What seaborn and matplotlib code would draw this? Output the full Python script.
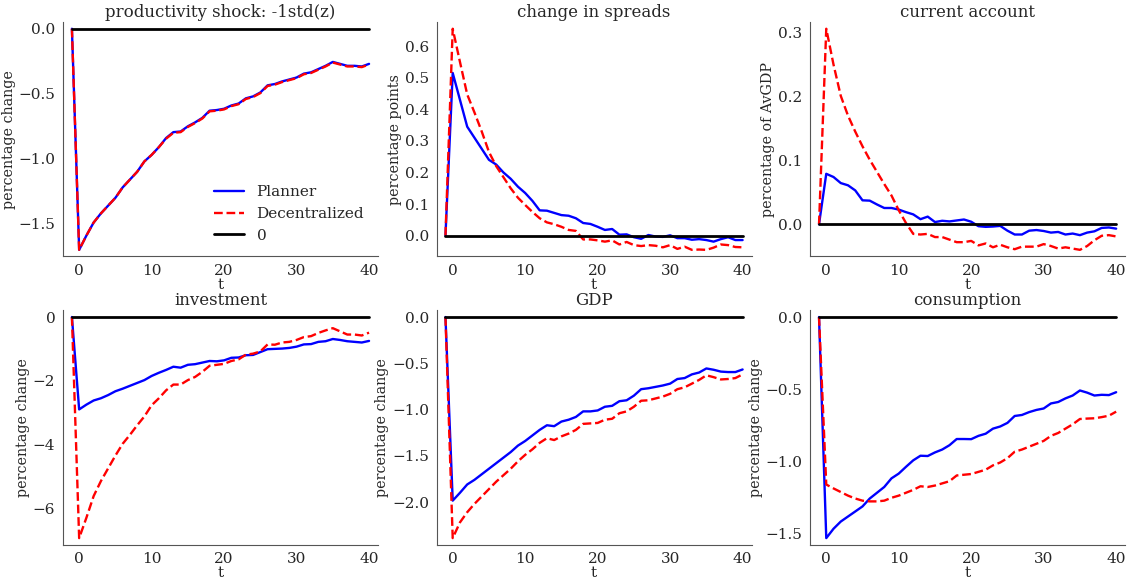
import numpy as np
import pandas as pd
import matplotlib
matplotlib.use("Agg")
import matplotlib.pyplot as plt
from matplotlib.ticker import MultipleLocator
import seaborn as sns

# horizon: t = -1 (steady state) .. 40
t = list(range(-1, 41))

# --- impulse responses ---
prod_planner = [0.0, -1.70, -1.59, -1.49, -1.42, -1.36, -1.30, -1.22, -1.16, -1.10, -1.02,
                -0.97, -0.91, -0.84, -0.795, -0.79, -0.75, -0.72, -0.685, -0.63, -0.625,
                -0.615, -0.59, -0.575, -0.535, -0.52, -0.49, -0.435, -0.425, -0.405, -0.39,
                -0.375, -0.345, -0.335, -0.31, -0.285, -0.255, -0.27, -0.285, -0.285, -0.29, -0.27]
prod_decen = [0.0, -1.70, -1.59, -1.49, -1.42, -1.36, -1.30, -1.22, -1.16, -1.10, -1.02,
              -0.97, -0.91, -0.845, -0.80, -0.795, -0.755, -0.725, -0.69, -0.635, -0.63,
              -0.62, -0.595, -0.58, -0.54, -0.525, -0.495, -0.44, -0.43, -0.41, -0.395,
              -0.38, -0.35, -0.34, -0.315, -0.29, -0.26, -0.275, -0.29, -0.29, -0.295, -0.275]

spread_planner = [0.0, 0.515, 0.43, 0.345, 0.31, 0.275, 0.24, 0.225, 0.20, 0.18, 0.155,
                  0.135, 0.11, 0.08, 0.079, 0.072, 0.065, 0.063, 0.055, 0.04, 0.037,
                  0.028, 0.018, 0.021, 0.003, 0.004, -0.005, -0.01, 0.002, -0.003, -0.004,
                  0.001, -0.008, -0.008, -0.013, -0.011, -0.014, -0.019, -0.011, -0.005, -0.014, -0.014]
spread_decen = [0.0, 0.655, 0.55, 0.447, 0.39, 0.33, 0.265, 0.22, 0.185, 0.15, 0.12,
                0.097, 0.075, 0.055, 0.042, 0.036, 0.028, 0.018, 0.015, -0.012, -0.012,
                -0.015, -0.019, -0.015, -0.028, -0.02, -0.03, -0.033, -0.03, -0.032, -0.037,
                -0.03, -0.042, -0.035, -0.045, -0.044, -0.045, -0.038, -0.028, -0.03, -0.036, -0.037]

ca_planner = [0.0, 0.079, 0.074, 0.0645, 0.061, 0.053, 0.0375, 0.037, 0.031, 0.0255, 0.0255,
              0.023, 0.019, 0.0155, 0.008, 0.012, 0.0035, 0.0055, 0.0045, 0.006, 0.0075,
              0.004, -0.003, -0.004, -0.0035, -0.0025, -0.01, -0.016, -0.016, -0.01, -0.009,
              -0.0105, -0.013, -0.012, -0.016, -0.0145, -0.017, -0.013, -0.011, -0.0057, -0.005, -0.0068]
ca_decen = [0.0, 0.306, 0.25, 0.201, 0.17, 0.145, 0.122, 0.101, 0.082, 0.063, 0.045,
            0.022, 0.002, -0.015, -0.016, -0.015, -0.02, -0.02, -0.024, -0.028, -0.028,
            -0.026, -0.033, -0.03, -0.036, -0.032, -0.036, -0.039, -0.035, -0.035, -0.035,
            -0.031, -0.034, -0.038, -0.036, -0.038, -0.04, -0.034, -0.025, -0.018, -0.017, -0.019]

inv_planner = [0.0, -2.9, -2.75, -2.62, -2.55, -2.45, -2.33, -2.25, -2.16, -2.07, -1.98,
               -1.85, -1.75, -1.66, -1.56, -1.59, -1.50, -1.48, -1.43, -1.38, -1.39,
               -1.36, -1.28, -1.27, -1.20, -1.19, -1.10, -1.01, -1.00, -0.99, -0.97,
               -0.93, -0.86, -0.85, -0.78, -0.76, -0.69, -0.72, -0.76, -0.78, -0.80, -0.75]
inv_decen = [0.0, -6.94, -6.3, -5.62, -5.15, -4.75, -4.35, -3.98, -3.70, -3.40, -3.12,
             -2.77, -2.55, -2.30, -2.12, -2.12, -1.98, -1.88, -1.72, -1.53, -1.50,
             -1.47, -1.38, -1.33, -1.18, -1.15, -1.08, -0.86, -0.87, -0.80, -0.78,
             -0.72, -0.63, -0.60, -0.50, -0.42, -0.35, -0.45, -0.55, -0.55, -0.58, -0.49]

gdp_planner = [0.0, -1.985, -1.90, -1.81, -1.76, -1.70, -1.64, -1.58, -1.52, -1.46, -1.39,
               -1.34, -1.28, -1.22, -1.17, -1.18, -1.13, -1.11, -1.08, -1.02, -1.02,
               -1.01, -0.97, -0.96, -0.91, -0.90, -0.85, -0.78, -0.77, -0.755, -0.74,
               -0.72, -0.67, -0.66, -0.62, -0.60, -0.556, -0.57, -0.59, -0.595, -0.595, -0.567]
gdp_decen = [0.0, -2.39, -2.22, -2.11, -2.02, -1.94, -1.86, -1.78, -1.71, -1.64, -1.56,
             -1.49, -1.43, -1.36, -1.31, -1.33, -1.29, -1.26, -1.22, -1.155, -1.15,
             -1.145, -1.11, -1.10, -1.04, -1.02, -0.97, -0.905, -0.90, -0.88, -0.86,
             -0.83, -0.78, -0.76, -0.72, -0.68, -0.63, -0.65, -0.675, -0.67, -0.66, -0.62]

cons_planner = [0.0, -1.535, -1.47, -1.42, -1.385, -1.35, -1.315, -1.26, -1.22, -1.18, -1.12,
                -1.087, -1.04, -0.995, -0.963, -0.965, -0.94, -0.92, -0.89, -0.847, -0.847,
                -0.848, -0.825, -0.81, -0.775, -0.76, -0.735, -0.687, -0.68, -0.66, -0.645,
                -0.635, -0.60, -0.59, -0.565, -0.545, -0.51, -0.525, -0.545, -0.54, -0.542, -0.522]
cons_decen = [0.0, -1.163, -1.19, -1.215, -1.24, -1.26, -1.275, -1.28, -1.28, -1.275, -1.255,
              -1.24, -1.22, -1.20, -1.175, -1.18, -1.17, -1.155, -1.14, -1.10, -1.095,
              -1.09, -1.075, -1.06, -1.03, -1.01, -0.98, -0.935, -0.92, -0.90, -0.88,
              -0.86, -0.825, -0.805, -0.775, -0.745, -0.708, -0.705, -0.703, -0.695, -0.685, -0.657]

zero_line = [0.0] * len(t)

titles = ["productivity shock: -1std(z)", "change in spreads", "current account",
          "investment", "GDP", "consumption"]
ylabels = ["percentage change", "percentage points", "percentage of AvGDP",
           "percentage change", "percentage change", "percentage change"]
ytick_steps = [0.5, 0.1, 0.1, 2, 0.5, 0.5]
planner_series = [prod_planner, spread_planner, ca_planner, inv_planner, gdp_planner, cons_planner]
decen_series = [prod_decen, spread_decen, ca_decen, inv_decen, gdp_decen, cons_decen]

sns.set_style("white")
plt.rcParams['font.family'] = ['DejaVu Serif', 'DejaVu Sans']
plt.rcParams['font.size'] = 11

fig, axes = plt.subplots(2, 3, figsize=(11.33, 5.82), dpi=100)
fig.subplots_adjust(left=0.0556, right=0.993, top=0.962, bottom=0.064,
                    wspace=0.186, hspace=0.23)

for i, ax in enumerate(axes.flat):
    sns.lineplot(x=t, y=planner_series[i], ax=ax, color="blue", lw=1.7, label="Planner")
    sns.lineplot(x=t, y=decen_series[i], ax=ax, color="red", lw=1.7,
                 linestyle="--", label="Decentralized")
    sns.lineplot(x=t, y=zero_line, ax=ax, color="black", lw=2, label="0")
    ax.set_title(titles[i], fontsize=12, pad=4)
    ax.set_xlabel("t", fontsize=11, labelpad=0)
    ax.set_ylabel(ylabels[i], fontsize=10.3, labelpad=2)
    ax.set_xticks([0, 10, 20, 30, 40])
    ax.yaxis.set_major_locator(MultipleLocator(ytick_steps[i]))
    ax.margins(0.03)
    ax.tick_params(labelsize=11, pad=2)
    for sp in ax.spines.values():
        sp.set_color("#555555")
    sns.despine(ax=ax)
    if i == 0:
        ax.legend(loc="lower right", frameon=False, fontsize=11)
    else:
        ax.get_legend().remove()

fig.savefig("out.png", dpi=100)
